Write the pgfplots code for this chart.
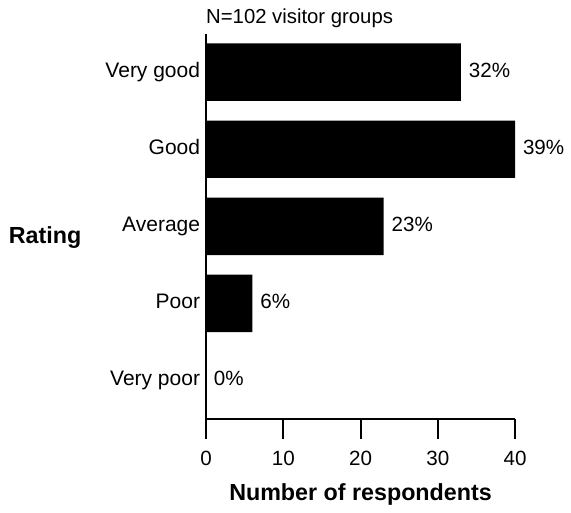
\documentclass[border=0pt]{standalone}
\usepackage{pgfplots}
\pgfplotsset{compat=1.18}
\usepackage{fontspec}
\setmainfont{Liberation Sans}
\begin{document}
\fontsize{20.5}{24}\selectfont
\begin{tikzpicture}
\begin{axis}[
  name=ax,
  scale only axis,
  width=312pt, height=389pt,
  xbar, bar width=58pt, bar shift=0pt,
  xmin=0, xmax=40,
  ymin=-0.5, ymax=4.5,
  axis x line*=bottom, axis y line*=left,
  axis line style={line width=2pt, -},
  xtick={0,10,20,30,40},
  ytick={0,1,2,3,4},
  yticklabels={Very poor,Poor,Average,Good,Very good},
  y tick label style={font=\fontsize{21.2}{24}\selectfont, xshift=21pt, text height=0.72em, text depth=0.2em},
  x tick label style={font=\fontsize{20.8}{24}\selectfont, yshift=-5pt},
  /pgf/number format/assume math mode=true,
  tick align=outside,
  xtick style={line width=2pt, black},
  major tick length=20pt,
  ytick style={draw=none},
  xlabel={Number of respondents},
  xlabel style={font=\bfseries\fontsize{23.5}{28}\selectfont, yshift=-5pt},
  ylabel={Rating},
  ylabel style={font=\bfseries\fontsize{23.5}{28}\selectfont, at={(rel axis cs:0,0.47)}, anchor=west, rotate=-90, xshift=-206pt},
  nodes near coords,
  point meta=explicit symbolic,
  nodes near coords style={font=\fontsize{20.8}{24}\selectfont, anchor=west, xshift=1pt, text height=0.72em, text depth=0.2em},
  clip=false,
]
\addplot[fill=black, draw=none] coordinates {
  (0,0) [0\%]
  (6,1) [6\%]
  (23,2) [23\%]
  (40,3) [39\%]
  (33,4) [32\%]
};
\node[anchor=south west, font=\fontsize{20.5}{24}\selectfont, inner sep=0pt] at ([yshift=6pt]rel axis cs:0,1) {N=102 visitor groups};
\end{axis}
\path ([xshift=-208pt,yshift=-85pt]ax.south west) rectangle ([xshift=51pt,yshift=34pt]ax.north east);
\end{tikzpicture}
\end{document}
